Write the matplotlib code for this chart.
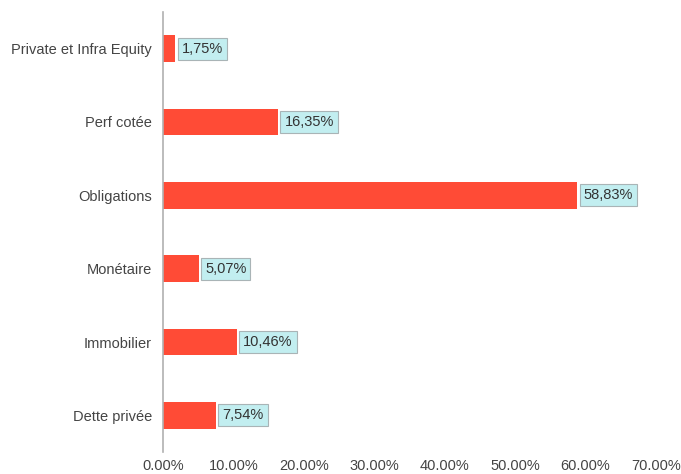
import matplotlib.pyplot as plt
import numpy as np

plt.rcParams["font.family"] = ["Liberation Sans", "DejaVu Sans"]

categories = ["Dette privée", "Immobilier", "Monétaire", "Obligations",
              "Perf cotée", "Private et Infra Equity"]
values = [7.54, 10.46, 5.07, 58.83, 16.35, 1.75]
xticks = [0, 10, 20, 30, 40, 50, 60, 70]

fig = plt.figure(figsize=(6.81, 4.74), dpi=100)
ax = fig.add_axes([0.2394, 0.0464, 0.7239, 0.9283])

y = np.arange(len(categories))
ax.barh(y, values, height=0.36, color="#ff4b36", zorder=2)

for yi, v in zip(y, values):
    ax.annotate(f"{v:.2f}".replace(".", ",") + "%", (v, yi),
                xytext=(4.5, 0), textcoords="offset points",
                va="center", ha="left", fontsize=10.5, color="#333333",
                bbox=dict(boxstyle="square,pad=0.28", fc="#c2eef0",
                          ec="#a9b4b6", lw=0.8))

ax.set_xlim(0, 70)
ax.set_ylim(-0.5, len(categories) - 0.5)
ax.set_yticks(y)
ax.set_yticklabels(categories, fontsize=10.5, color="#444444")
ax.set_xticks(xticks)
ax.set_xticklabels([f"{t:.2f}%" for t in xticks], fontsize=10.5, color="#444444")
ax.tick_params(axis="y", length=0, pad=8)
ax.tick_params(axis="x", length=0, pad=5)

for side in ["top", "right", "bottom"]:
    ax.spines[side].set_visible(False)
ax.spines["left"].set_color("#b0b0b0")
ax.spines["left"].set_linewidth(1.2)

fig.savefig("out.png", dpi=100)
